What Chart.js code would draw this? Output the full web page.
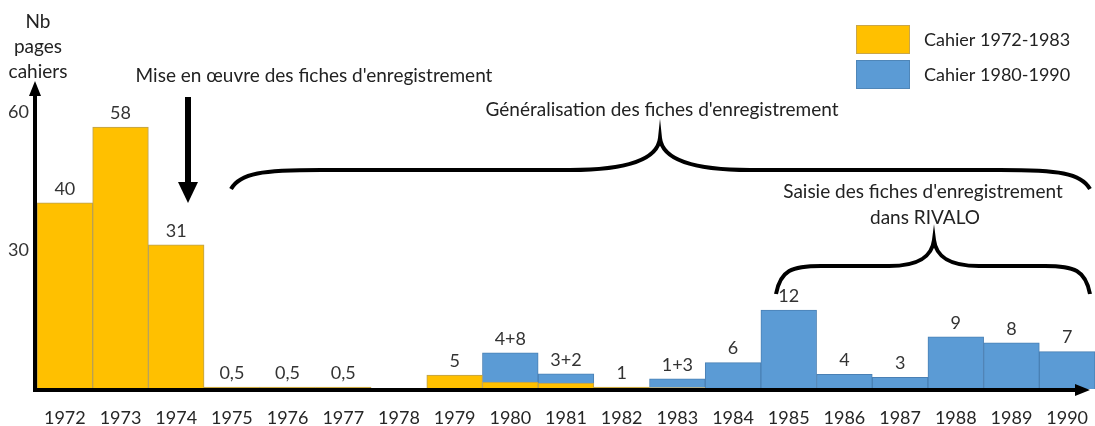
<!DOCTYPE html>
<html>
<head>
<meta charset="utf-8">
<script src="https://cdn.jsdelivr.net/npm/chart.js@4.4.0/dist/chart.umd.min.js"></script>
<style>
  html, body { margin: 0; padding: 0; background: #fff; }
</style>
</head>
<body>
<canvas id="chart" width="1095" height="426"></canvas>
<script>
// data (bar heights as drawn, labels as written)
const years = ['1972', '1973', '1974', '1975', '1976', '1977', '1978', '1979', '1980', '1981',
               '1982', '1983', '1984', '1985', '1986', '1987', '1988', '1989', '1990'];
const cahier7283 = [40.3, 56.7, 31.2, 0.4, 0.4, 0.4, null, 3.0, 1.5, 1.3,
                    0.4, 0.3, null, null, null, null, null, null, null];
const cahier8090 = [null, null, null, null, null, null, null, null, 6.3, 2.0,
                    null, 1.9, 5.7, 17.1, 3.2, 2.5, 11.3, 10.0, 8.1];
const barLabels = ['40', '58', '31', '0,5', '0,5', '0,5', '', '5', '4+8', '3+2',
                   '1', '1+3', '6', '12', '4', '3', '9', '8', '7'];
const yTicks = [30, 60];
const seriesNames = ['Cahier 1972-1983', 'Cahier 1980-1990'];

const YELLOW = '#FFC000';
const BLUE = '#5B9BD5';
const FONT = 'Lato, "Open Sans", sans-serif';

function drawBrace(ctx, x0, x1, xm, yEnd, yArm, yPeak, r) {
    ctx.beginPath();
    ctx.moveTo(x0, yEnd);
    ctx.bezierCurveTo(x0 + r * 0.1, yArm + (yEnd - yArm) * 0.15, x0 + r * 0.35, yArm, x0 + r, yArm);
    ctx.lineTo(xm - r, yArm);
    ctx.bezierCurveTo(xm - r * 0.3, yArm, xm - 2, yArm - (yArm - yPeak) * 0.4, xm, yPeak);
    ctx.bezierCurveTo(xm + 2, yArm - (yArm - yPeak) * 0.4, xm + r * 0.3, yArm, xm + r, yArm);
    ctx.lineTo(x1 - r, yArm);
    ctx.bezierCurveTo(x1 - r * 0.35, yArm, x1 - r * 0.1, yArm + (yEnd - yArm) * 0.15, x1, yEnd);
    ctx.stroke();
}

const annotations = {
    id: 'annotations',
    afterDatasetsDraw(chart) {
        const { ctx, chartArea, scales: { x, y } } = chart;
        ctx.save();

        // value labels above each bar
        ctx.font = '18px ' + FONT;
        ctx.fillStyle = '#333';
        ctx.textAlign = 'center';
        ctx.textBaseline = 'bottom';
        years.forEach((yr, i) => {
            const total = (cahier7283[i] || 0) + (cahier8090[i] || 0);
            ctx.fillText(barLabels[i], x.getPixelForValue(i), y.getPixelForValue(total) - 5);
        });

        // axes with arrow heads
        const ox = chartArea.left - 2;
        const oy = y.getPixelForValue(0) + 1;
        ctx.strokeStyle = '#000';
        ctx.fillStyle = '#000';
        ctx.lineWidth = 4;
        ctx.beginPath();
        ctx.moveTo(ox, oy + 2);
        ctx.lineTo(ox, chartArea.top + 8);
        ctx.moveTo(ox - 2, oy);
        ctx.lineTo(1080, oy);
        ctx.stroke();
        ctx.beginPath();
        ctx.moveTo(ox, chartArea.top - 3);
        ctx.lineTo(ox - 6, chartArea.top + 12);
        ctx.lineTo(ox + 6, chartArea.top + 12);
        ctx.closePath();
        ctx.fill();
        ctx.beginPath();
        ctx.moveTo(1090, oy);
        ctx.lineTo(1075, oy - 6);
        ctx.lineTo(1075, oy + 6);
        ctx.closePath();
        ctx.fill();

        // y axis title
        ctx.fillStyle = '#222';
        ctx.font = '19px ' + FONT;
        ctx.textBaseline = 'middle';
        ctx.fillText('Nb', 38, 22);
        ctx.fillText('pages', 38, 47);
        ctx.fillText('cahiers', 38, 72);

        // "Mise en oeuvre" arrow
        ctx.fillText('Mise en \u0153uvre des fiches d\'enregistrement', 314, 76);
        ctx.fillStyle = '#000';
        ctx.fillRect(185, 97, 6, 88);
        ctx.beginPath();
        ctx.moveTo(178, 182);
        ctx.lineTo(198, 182);
        ctx.lineTo(188, 203);
        ctx.closePath();
        ctx.fill();

        // braces
        ctx.fillStyle = '#222';
        ctx.fillText('G\u00e9n\u00e9ralisation des fiches d\'enregistrement', 662, 110);
        ctx.lineWidth = 4;
        ctx.strokeStyle = '#000';
        drawBrace(ctx, 231, 1090, 660, 189, 170, 138, 90);
        ctx.fillText('Saisie des fiches d\'enregistrement', 923, 192);
        ctx.fillText('dans RIVALO', 925, 218);
        drawBrace(ctx, 776, 1090, 934, 294, 266, 240, 45);

        // legend
        ctx.font = '18px ' + FONT;
        [YELLOW, BLUE].forEach((c, k) => {
            const top = 25 + k * 35;
            ctx.fillStyle = c;
            ctx.fillRect(856, top, 54, 29);
            ctx.strokeStyle = k === 0 ? '#c9a64a' : '#4f86b8';
            ctx.lineWidth = 1;
            ctx.strokeRect(856.5, top + 0.5, 53, 28);
            ctx.fillStyle = '#222';
            ctx.textAlign = 'left';
            ctx.fillText(seriesNames[k], 924, top + 15);
        });

        ctx.restore();
    }
};

new Chart(document.getElementById('chart'), {
    type: 'bar',
    data: {
        labels: years,
        datasets: [
            {
                label: seriesNames[0],
                data: cahier7283,
                backgroundColor: YELLOW,
                borderColor: '#b9a055',
                borderWidth: 1,
            },
            {
                label: seriesNames[1],
                data: cahier8090,
                backgroundColor: BLUE,
                borderColor: '#4a80b4',
                borderWidth: 1,
            },
        ],
    },
    options: {
        responsive: false,
        animation: false,
        layout: { padding: { top: 84, right: 0, left: 0, bottom: 0 } },
        plugins: { legend: { display: false }, tooltip: { enabled: false } },
        datasets: { bar: { barPercentage: 1, categoryPercentage: 1 } },
        scales: {
            x: {
                stacked: true,
                grid: { display: false, drawTicks: false },
                border: { display: false },
                ticks: { color: '#262626', font: { family: FONT, size: 18 }, padding: 18, maxRotation: 0, autoSkip: false },
                afterFit: (s) => { s.height = 37; s.paddingLeft = 0; s.paddingRight = 0; },
            },
            y: {
                stacked: true,
                min: 0,
                max: 66,
                grid: { display: false, drawTicks: false },
                border: { display: false },
                afterBuildTicks: (s) => { s.ticks = yTicks.map((v) => ({ value: v })); },
                ticks: { color: '#333', font: { family: FONT, size: 18 }, padding: 8 },
                afterFit: (s) => { s.width = 37; s.paddingTop = 0; s.paddingBottom = 0; },
            },
        },
    },
    plugins: [annotations],
});
</script>
</body>
</html>
